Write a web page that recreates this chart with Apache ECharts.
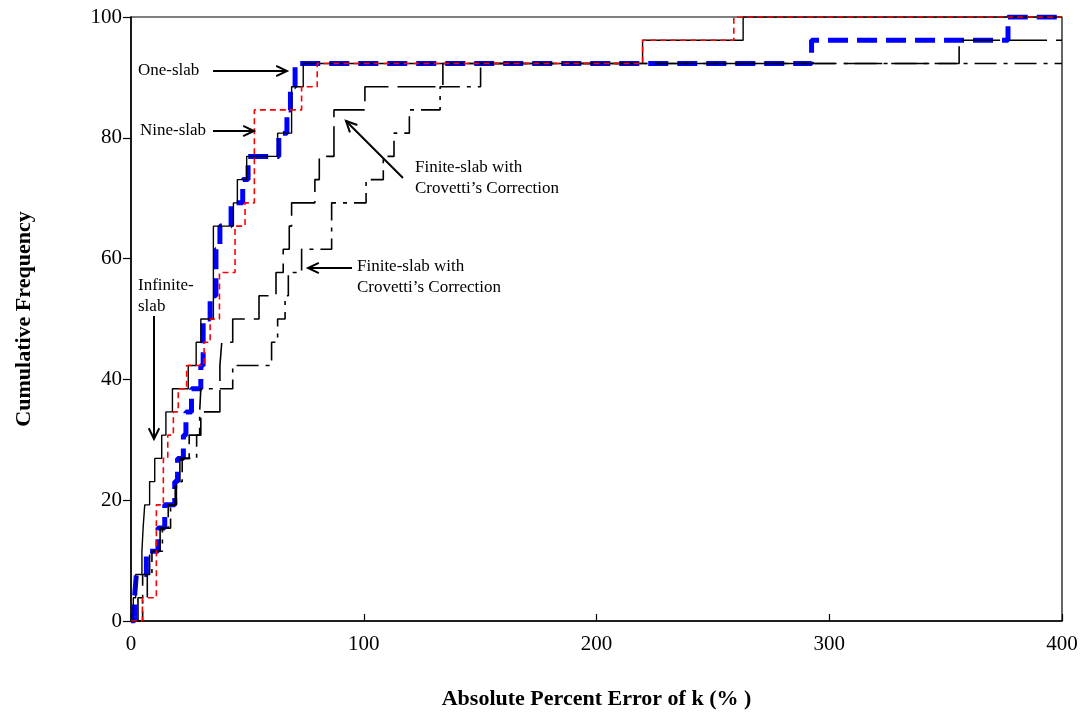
<!DOCTYPE html>
<html>
<head>
<meta charset="utf-8">
<script src="https://cdn.jsdelivr.net/npm/echarts@6/dist/echarts.min.js"></script>
<style>
html,body{margin:0;padding:0;background:#fff;}
#chart{width:1087px;height:719px;}
</style>
</head>
<body>
<div id="chart"></div>
<script>
// Cumulative frequency levels (%), one per sorted case (26 cases)
const cumFreq = [3.85, 7.69, 11.54, 15.38, 19.23, 23.08, 26.92, 30.77, 34.62, 38.46, 42.31, 46.15, 50.00,
                 53.85, 57.69, 61.54, 65.38, 69.23, 73.08, 76.92, 80.77, 84.62, 88.46, 92.31, 96.15, 100.00];
// Absolute percent error of k at which each cumulative level is reached
const infiniteSlab = [1.0, 2.0, 4.7, 5.2, 5.9, 8.0, 10.2, 13.2, 15.0, 17.8, 24.6, 28.0, 30.0,
                      35.4, 35.4, 35.4, 35.4, 44.0, 45.7, 49.7, 63.0, 69.0, 69.0, 74.0, 219.8, 263.0];
const oneSlab = [1.5, 2.3, 6.6, 11.6, 14.5, 18.8, 20.0, 22.5, 23.6, 26.0, 30.0, 31.0, 31.0,
                 34.0, 36.5, 36.5, 38.2, 43.0, 48.0, 50.3, 63.5, 67.0, 68.5, 70.5, 292.4, 376.8];
const nineSlab = [4.9, 10.9, 10.9, 10.9, 10.9, 13.9, 13.9, 15.8, 18.2, 20.3, 23.9, 31.4, 34.0,
                  38.0, 38.0, 44.7, 44.7, 49.0, 53.0, 53.0, 53.0, 53.0, 73.3, 80.0, 219.8, 259.0];
const finiteSlabA = [3.0, 5.0, 8.0, 12.5, 16.0, 19.0, 21.0, 25.0, 30.0, 38.2, 38.2, 39.0, 43.7,
                     55.0, 62.3, 65.4, 68.0, 69.0, 79.0, 80.9, 87.2, 87.2, 100.5, 134.0, 355.8];
const finiteSlabB = [5.0, 7.0, 9.0, 13.5, 17.0, 19.5, 22.0, 28.2, 29.5, 30.0, 43.7, 60.4, 63.0,
                     66.2, 67.6, 73.3, 86.2, 86.2, 101.0, 108.4, 113.0, 119.6, 132.8, 150.2];
const xTicks = [0, 100, 200, 300, 400];
const yTicks = [0, 20, 40, 60, 80, 100];

function cdf(xs) {
  const pts = [[0, 0]];
  xs.forEach((x, i) => pts.push([x, cumFreq[i]]));
  pts.push([400, cumFreq[xs.length - 1]]);
  return pts;
}

const FONT = 'Liberation Serif';
const chart = echarts.init(document.getElementById('chart'), null, {renderer: 'canvas'});

function arrow(x1, y1, x2, y2) {
  const ang = Math.atan2(y2 - y1, x2 - x1);
  const L = 12, a = 0.45;
  const p1 = [x2 - L * Math.cos(ang - a), y2 - L * Math.sin(ang - a)];
  const p2 = [x2 - L * Math.cos(ang + a), y2 - L * Math.sin(ang + a)];
  return [
    {type: 'line', shape: {x1, y1, x2, y2}, style: {stroke: '#000', lineWidth: 2}, z: 100},
    {type: 'polyline', shape: {points: [p1, [x2, y2], p2]}, style: {stroke: '#000', lineWidth: 2, fill: null}, z: 100}
  ];
}
function label(x, y, t) {
  return {type: 'text', x, y, style: {text: t, font: '17px "' + FONT + '"', fill: '#000', textVerticalAlign: 'middle'}, z: 100};
}

const option = {
  animation: false,
  backgroundColor: '#fff',
  grid: {left: 131, top: 17, right: 25, bottom: 98, show: true, borderColor: '#000', borderWidth: 1.2, backgroundColor: 'transparent'},
  xAxis: {
    type: 'value', min: 0, max: 400, interval: 100,
    name: 'Absolute Percent Error of k (% )', nameLocation: 'middle', nameGap: 67,
    nameTextStyle: {fontFamily: FONT, fontWeight: 'bold', fontSize: 22, color: '#000'},
    axisLine: {show: true, onZero: false, lineStyle: {color: '#000', width: 1.5}},
    axisTick: {show: true, inside: true, length: 7, lineStyle: {color: '#000', width: 1.2}},
    axisLabel: {fontFamily: FONT, fontSize: 21, color: '#000', margin: 13},
    splitLine: {show: false}
  },
  yAxis: {
    type: 'value', min: 0, max: 100, interval: 20,
    name: 'Cumulative Frequency', nameLocation: 'middle', nameGap: 96,
    nameTextStyle: {fontFamily: FONT, fontWeight: 'bold', fontSize: 22, color: '#000'},
    axisLine: {show: true, lineStyle: {color: '#000', width: 1.5}},
    axisTick: {show: true, inside: false, length: 8, lineStyle: {color: '#000', width: 1.2}},
    axisLabel: {fontFamily: FONT, fontSize: 21, color: '#000', margin: 9},
    splitLine: {show: false}
  },
  series: [
    {name: 'One-slab', type: 'line', step: 'end', showSymbol: false, symbol: 'none', z: 2,
     data: cdf(oneSlab), lineStyle: {color: '#0000ff', width: 5, type: [20, 9], cap: 'butt'}},
    {name: 'Finite-slab B', type: 'line', step: 'end', showSymbol: false, symbol: 'none', z: 3,
     data: cdf(finiteSlabB), lineStyle: {color: '#000', width: 1.6, type: [22, 7, 4, 7]}},
    {name: 'Finite-slab A', type: 'line', step: 'end', showSymbol: false, symbol: 'none', z: 3,
     data: cdf(finiteSlabA), lineStyle: {color: '#000', width: 1.6, type: [38, 9]}},
    {name: 'Infinite-slab', type: 'line', step: 'end', showSymbol: false, symbol: 'none', z: 4,
     data: cdf(infiniteSlab), lineStyle: {color: '#000', width: 1.4, type: 'solid'}},
    {name: 'Nine-slab', type: 'line', step: 'end', showSymbol: false, symbol: 'none', z: 5,
     data: cdf(nineSlab), lineStyle: {color: '#ff0000', width: 1.6, type: [6, 4]}}
  ],
  graphic: [].concat(
    label(138, 71, 'One-slab'), arrow(213, 71, 287, 71),
    label(140, 131, 'Nine-slab'), arrow(213, 131, 254, 131),
    label(138, 286, 'Infinite-'), label(138, 307, 'slab'), arrow(154, 316, 154, 439),
    label(415, 168, 'Finite-slab with'), label(415, 189, 'Crovetti\u2019s Correction'), arrow(403, 178, 346, 121),
    label(357, 267, 'Finite-slab with'), label(357, 288, 'Crovetti\u2019s Correction'), arrow(352, 268, 308, 268)
  )
};
chart.setOption(option);
</script>
</body>
</html>
